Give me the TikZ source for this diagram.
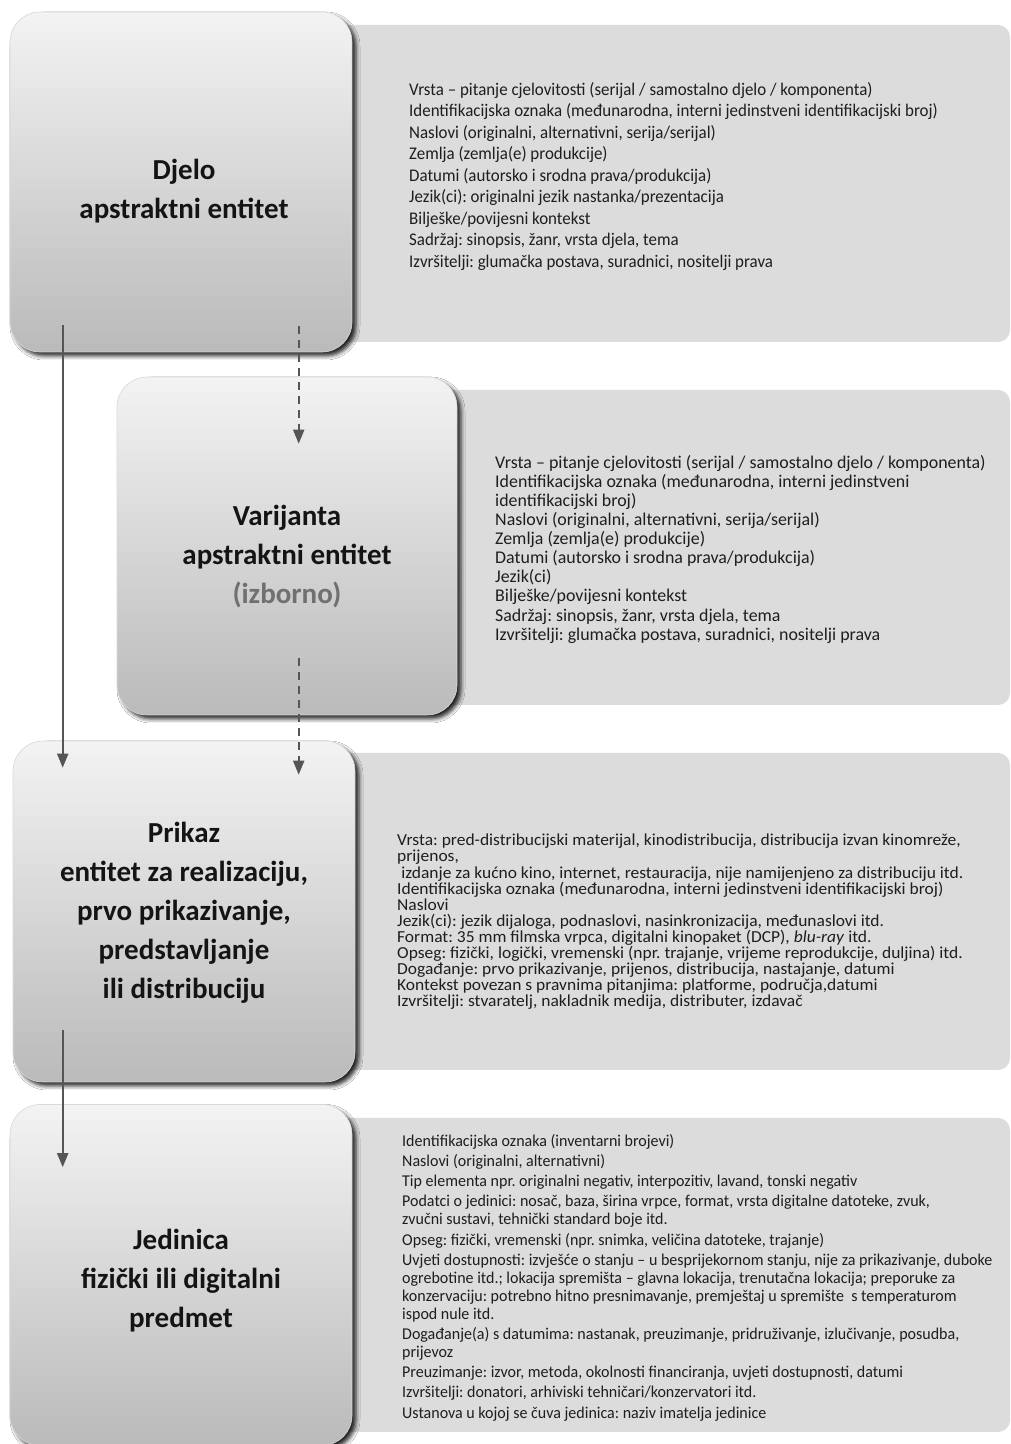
\documentclass[tikz,border=0pt]{standalone}
\usepackage{fontspec}
\setmainfont{Carlito}
\newfontfamily\pone[FakeStretch=0.95]{Carlito}
\newfontfamily\pthree[FakeStretch=1.04]{Carlito}
\newfontfamily\pfour[FakeStretch=0.97]{Carlito}
\usetikzlibrary{arrows.meta,shadows.blur,calc}
\frenchspacing
\definecolor{panelgray}{HTML}{DCDCDC}
\definecolor{boxtop}{HTML}{F3F3F3}
\definecolor{boxbot}{HTML}{BABABA}
\definecolor{arrowgray}{HTML}{555555}
\definecolor{optgray}{HTML}{707070}
\definecolor{titletext}{HTML}{141414}
\definecolor{bodytext}{HTML}{1E1E1E}
\tikzset{
  entity/.style={rectangle, rounded corners=30pt, minimum width=342pt, minimum height=340pt,
    top color=boxtop, bottom color=boxbot, draw=gray!30, line width=0.6pt,
    blur shadow={shadow xshift=4pt, shadow yshift=-4pt, shadow blur radius=4pt, shadow opacity=85},
    inner sep=0pt},
  title/.style={align=center, font=\fontsize{29}{39}\selectfont\bfseries, text=titletext, inner sep=0pt},
  panel/.style={rectangle, rounded corners=12pt, fill=panelgray, inner sep=0pt},
  bodytxt/.style={anchor=north west, align=left, inner sep=0pt, text=bodytext},
  flow/.style={draw=arrowgray, line width=2pt, -{Triangle[width=11pt,length=14pt]}},
  optional/.style={flow, dash pattern=on 8pt off 6pt},
}
\begin{document}
\begin{tikzpicture}[x=1pt,y=1pt]
\useasboundingbox[fill=white] (0,0) rectangle (1010,1444);

% panels
\node[panel, minimum width=710pt, minimum height=317pt] (p1) at (655,1260.5) {};
\node[panel, minimum width=610pt, minimum height=315pt] (p2) at (705,896.5) {};
\node[panel, minimum width=710pt, minimum height=317pt] (p3) at (655,532.5) {};
\node[panel, minimum width=710pt, minimum height=314pt] (p4) at (655,169) {};

% entity boxes
\node[entity] (b1) at (181,1262) {};
\node[entity, minimum width=340pt, minimum height=338pt] (b2) at (287,898) {};
\node[entity, minimum height=341pt] (b3) at (184,532.5) {};
\node[entity, minimum height=341pt] (b4) at (181,169) {};

% titles
\node[title] (t1) at ($(b1.center)+(3,-9)$) {Djelo\\apstraktni entitet};
\node[title] (t2) at ($(b2.center)+(0,-11)$) {Varijanta\\apstraktni entitet\\\textcolor{optgray}{(izborno)}};
\node[title] (t3) at ($(b3.center)+(0,-1)$) {Prikaz\\entitet za realizaciju,\\prvo prikazivanje,\\predstavljanje\\ili distribuciju};
\node[title] (t4) at ($(b4.center)+(0,-6)$) {Jedinica\\fizički ili digitalni\\predmet};

% texts
\node[bodytxt, font=\pone\fontsize{17.8}{21.5}\selectfont] (d1) at (409,1362) {%
Vrsta – pitanje cjelovitosti (serijal / samostalno djelo / komponenta)\\
Identifikacijska oznaka (međunarodna, interni jedinstveni identifikacijski broj)\\
Naslovi (originalni, alternativni, serija/serijal)\\
Zemlja (zemlja(e) produkcije)\\
Datumi (autorsko i srodna prava/produkcija)\\
Jezik(ci): originalni jezik nastanka/prezentacija\\
Bilješke/povijesni kontekst\\
Sadržaj: sinopsis, žanr, vrsta djela, tema\\
Izvršitelji: glumačka postava, suradnici, nositelji prava};

\node[bodytxt, font=\fontsize{17.9}{19.1}\selectfont] (d2) at (495,989) {%
Vrsta – pitanje cjelovitosti (serijal / samostalno djelo / komponenta)\\
Identifikacijska oznaka (međunarodna, interni jedinstveni\\
identifikacijski broj)\\
Naslovi (originalni, alternativni, serija/serijal)\\
Zemlja (zemlja(e) produkcije)\\
Datumi (autorsko i srodna prava/produkcija)\\
Jezik(ci)\\
Bilješke/povijesni kontekst\\
Sadržaj: sinopsis, žanr, vrsta djela, tema\\
Izvršitelji: glumačka postava, suradnici, nositelji prava};

\node[bodytxt, font=\pthree\fontsize{16.8}{16.1}\selectfont] (d3) at (397,610) {%
Vrsta: pred-distribucijski materijal, kinodistribucija, distribucija izvan kinomreže,\\
prijenos,\\
\hspace*{0.25em}izdanje za kućno kino, internet, restauracija, nije namijenjeno za distribuciju itd.\\
Identifikacijska oznaka (međunarodna, interni jedinstveni identifikacijski broj)\\
Naslovi\\
Jezik(ci): jezik dijaloga, podnaslovi, nasinkronizacija, međunaslovi itd.\\
Format: 35 mm filmska vrpca, digitalni kinopaket (DCP), \textit{blu-ray} itd.\\
Opseg: fizički, logički, vremenski (npr. trajanje, vrijeme reprodukcije, duljina) itd.\\
Događanje: prvo prikazivanje, prijenos, distribucija, nastajanje, datumi\\
Kontekst povezan s pravnima pitanjima: platforme, područja,datumi\\
Izvršitelji: stvaratelj, nakladnik medija, distributer, izdavač};

\node[bodytxt, font=\pfour\fontsize{16.5}{18}\selectfont] (d4) at (402,310) {%
Identifikacijska oznaka (inventarni brojevi)\\[2.2pt]
Naslovi (originalni, alternativni)\\[2.2pt]
Tip elementa npr. originalni negativ, interpozitiv, lavand, tonski negativ\\[2.2pt]
Podatci o jedinici: nosač, baza, širina vrpce, format, vrsta digitalne datoteke, zvuk,\\
zvučni sustavi, tehnički standard boje itd.\\[2.2pt]
Opseg: fizički, vremenski (npr. snimka, veličina datoteke, trajanje)\\[2.2pt]
Uvjeti dostupnosti: izvješće o stanju – u besprijekornom stanju, nije za prikazivanje, duboke\\
ogrebotine itd.; lokacija spremišta – glavna lokacija, trenutačna lokacija; preporuke za\\
konzervaciju: potrebno hitno presnimavanje, premještaj u spremište\ \ s temperaturom\\
ispod nule itd.\\[2.2pt]
Događanje(a) s datumima: nastanak, preuzimanje, pridruživanje, izlučivanje, posudba,\\
prijevoz\\[2.2pt]
Preuzimanje: izvor, metoda, okolnosti financiranja, uvjeti dostupnosti, datumi\\[2.2pt]
Izvršitelji: donatori, arhiviski tehničari/konzervatori itd.\\[2.2pt]
Ustanova u kojoj se čuva jedinica: naziv imatelja jedinice};

% connectors
\coordinate (a1s) at ($(b1.south west)+(53,27)$);
\coordinate (a1e) at ($(b3.north west)+(50,-27)$);
\coordinate (a2s) at ($(b1.south west)+(289,26)$);
\coordinate (a2e) at ($(b2.north west)+(182,-67)$);
\coordinate (a3s) at ($(b2.south west)+(182,57)$);
\coordinate (a3e) at ($(b3.north west)+(286,-34)$);
\coordinate (a4s) at ($(b3.south west)+(50,52)$);
\coordinate (a4e) at ($(b4.north west)+(53,-63)$);
\draw[flow] (a1s) -- (a1e);
\draw[optional] (a2s) -- (a2e);
\draw[optional] (a3s) -- (a3e);
\draw[flow] (a4s) -- (a4e);
\end{tikzpicture}
\end{document}
